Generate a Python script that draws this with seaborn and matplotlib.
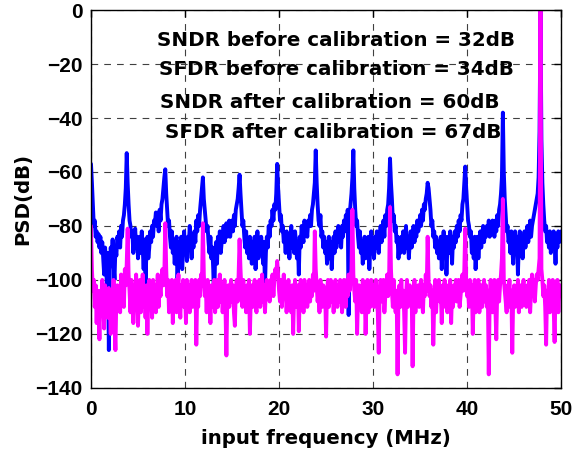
import numpy as np
import pandas as pd
import matplotlib
matplotlib.use('Agg')
import matplotlib.pyplot as plt
import seaborn as sns

# frequency bin spacing (MHz); PSD values, 0..50 MHz
bin_mhz = 0.1

# PSD before calibration (dB), one row = 1 MHz
psd_before = [
    -57, -64, -72, -80, -78, -84, -82, -86, -83, -88,
    -84, -90, -86, -92, -98, -88, -94, -103, -90, -126,
    -96, -88, -92, -85, -94, -100, -88, -91, -84, -86,
    -82, -88, -80, -84, -78, -76, -72, -66, -53, -64,
    -72, -78, -80, -84, -82, -90, -86, -81, -88, -84,
    -92, -86, -84, -90, -82, -88, -96, -85, -101, -89,
    -84, -92, -88, -82, -86, -80, -84, -78, -79, -75,
    -80, -76, -82, -74, -78, -72, -70, -66, -62, -59,
    -68, -74, -80, -78, -84, -88, -82, -90, -86, -94,
    -88, -84, -101, -90, -86, -92, -84, -96, -88, -82,
    -90, -86, -93, -84, -88, -80, -86, -92, -84, -88,
    -82, -86, -78, -82, -76, -80, -74, -70, -66, -62,
    -70, -74, -78, -82, -80, -86, -90, -84, -92, -88,
    -96, -110, -90, -86, -94, -84, -88, -82, -90, -86,
    -84, -80, -86, -82, -79, -84, -80, -78, -84, -80,
    -78, -82, -76, -80, -74, -72, -70, -66, -61, -68,
    -74, -80, -78, -84, -88, -82, -90, -86, -92, -84,
    -88, -94, -86, -90, -84, -96, -88, -82, -92, -86,
    -90, -84, -88, -94, -86, -103, -90, -84, -88, -80,
    -84, -78, -80, -74, -78, -72, -74, -68, -57, -66,
    -72, -78, -76, -82, -80, -86, -84, -90, -82, -88,
    -84, -92, -86, -80, -88, -84, -90, -82, -86, -92,
    -86, -98, -84, -88, -80, -84, -86, -78, -82, -80,
    -84, -78, -80, -76, -80, -74, -72, -68, -64, -52,
    -64, -72, -78, -80, -76, -84, -82, -88, -84, -90,
    -86, -94, -88, -84, -92, -86, -96, -88, -84, -90,
    -82, -88, -84, -80, -86, -82, -88, -80, -84, -78,
    -82, -76, -80, -74, -113, -76, -72, -68, -62, -52,
    -66, -74, -80, -78, -84, -88, -82, -90, -86, -94,
    -88, -84, -92, -86, -90, -84, -96, -88, -82, -90,
    -86, -92, -84, -88, -82, -86, -90, -84, -80, -86,
    -82, -78, -84, -76, -80, -74, -72, -66, -55, -64,
    -70, -78, -76, -82, -80, -86, -84, -92, -86, -90,
    -84, -88, -82, -90, -86, -80, -88, -84, -92, -86,
    -82, -88, -84, -80, -86, -82, -84, -78, -82, -80,
    -76, -80, -74, -78, -72, -74, -70, -68, -64, -66,
    -70, -74, -80, -78, -84, -82, -88, -84, -90, -86,
    -92, -86, -84, -96, -88, -82, -90, -84, -98, -88,
    -84, -90, -82, -86, -94, -84, -88, -82, -86, -80,
    -84, -78, -82, -76, -78, -72, -70, -64, -58, -66,
    -72, -78, -80, -84, -82, -90, -86, -92, -84, -96,
    -88, -84, -92, -86, -82, -88, -84, -80, -86, -82,
    -84, -80, -82, -78, -84, -80, -82, -78, -80, -84,
    -78, -82, -76, -80, -74, -72, -68, -62, -38, -60,
    -70, -76, -82, -80, -86, -84, -90, -82, -88, -94,
    -86, -82, -90, -84, -98, -86, -82, -88, -84, -92,
    -86, -82, -88, -84, -80, -86, -82, -78, -84, -80,
    -78, -76, -74, -72, -70, -68, -62, -45, 0, -48,
    -64, -72, -78, -82, -80, -86, -84, -88, -82, -90,
    -84, -88, -82, -86, -94, -84, -88, -82, -86, -84,
    -82,
]

# PSD after calibration (dB)
psd_after = [
    -80, -96, -104, -100, -110, -102, -116, -104, -108, -122,
    -104, -112, -100, -108, -118, -102, -110, -106, -114, -103,
    -108, -120, -104, -112, -100, -116, -126, -106, -102, -110,
    -104, -112, -98, -106, -100, -110, -96, -102, -94, -81,
    -98, -104, -112, -100, -106, -116, -102, -110, -98, -108,
    -117, -104, -100, -112, -106, -98, -110, -104, -114, -102,
    -120, -106, -100, -110, -104, -114, -100, -108, -102, -112,
    -104, -98, -110, -102, -106, -100, -96, -102, -98, -79,
    -96, -106, -100, -112, -104, -110, -100, -116, -104, -108,
    -100, -112, -104, -98, -108, -114, -102, -106, -100, -110,
    -104, -116, -100, -108, -102, -112, -106, -100, -110, -104,
    -108, -100, -124, -104, -110, -100, -106, -98, -102, -79,
    -98, -106, -102, -112, -100, -108, -104, -116, -102, -110,
    -104, -100, -112, -106, -100, -110, -104, -98, -108, -102,
    -112, -104, -100, -110, -128, -106, -102, -110, -104, -100,
    -108, -102, -112, -117, -104, -100, -108, -98, -85, -96,
    -104, -110, -100, -108, -104, -112, -102, -106, -100, -120,
    -106, -102, -110, -104, -100, -108, -112, -102, -106, -100,
    -110, -104, -98, -108, -102, -112, -104, -100, -106, -102,
    -108, -100, -104, -98, -106, -100, -96, -98, -93, -98,
    -104, -108, -100, -110, -104, -98, -106, -102, -112, -104,
    -100, -108, -104, -112, -102, -120, -106, -100, -110, -104,
    -102, -119, -106, -100, -108, -104, -112, -100, -106, -102,
    -110, -104, -100, -108, -102, -106, -98, -104, -82, -96,
    -102, -108, -104, -112, -100, -106, -110, -102, -108, -104,
    -121, -104, -100, -110, -106, -100, -108, -102, -112, -104,
    -100, -106, -110, -102, -108, -100, -104, -112, -106, -100,
    -104, -110, -100, -106, -98, -104, -100, -96, -74, -98,
    -104, -108, -100, -120, -106, -102, -110, -104, -112, -100,
    -106, -102, -120, -108, -100, -112, -104, -110, -100, -106,
    -102, -110, -104, -100, -108, -112, -127, -104, -100, -108,
    -104, -100, -112, -106, -102, -98, -106, -100, -73, -96,
    -104, -110, -100, -108, -112, -104, -135, -106, -102, -110,
    -100, -108, -104, -112, -127, -106, -100, -110, -104, -102,
    -108, -104, -132, -106, -100, -112, -104, -108, -102, -110,
    -104, -100, -108, -112, -102, -106, -98, -104, -84, -100,
    -106, -102, -110, -104, -124, -108, -100, -112, -104, -106,
    -100, -108, -104, -116, -102, -110, -100, -106, -104, -112,
    -102, -108, -100, -116, -104, -110, -102, -106, -100, -108,
    -104, -100, -110, -106, -102, -98, -104, -96, -81, -100,
    -106, -104, -110, -100, -108, -102, -120, -106, -100, -112,
    -104, -108, -100, -112, -106, -102, -110, -104, -100, -108,
    -102, -110, -104, -135, -106, -100, -108, -112, -104, -100,
    -110, -122, -104, -100, -108, -102, -98, -92, -70, -100,
    -104, -108, -112, -102, -106, -100, -110, -104, -127, -106,
    -102, -110, -104, -108, -100, -112, -106, -102, -110, -104,
    -100, -108, -104, -110, -102, -106, -100, -112, -104, -98,
    -104, -100, -108, -102, -98, -100, -96, -92, 0, -96,
    -100, -106, -102, -110, -124, -104, -108, -100, -112, -104,
    -106, -100, -110, -123, -104, -108, -100, -112, -104, -102,
    -106,
]

notes = [
    'SNDR before calibration = 32dB',
    'SFDR before calibration = 34dB',
    'SNDR after calibration = 60dB',
    'SFDR after calibration = 67dB',
]
note_x = [26.1, 26.15, 25.4, 25.8]
note_y = [-11.3, -22.2, -34.3, -45.5]

x_ticks = [0, 10, 20, 30, 40, 50]
y_ticks = [-140, -120, -100, -80, -60, -40, -20, 0]

freq = np.arange(len(psd_before)) * bin_mhz
df = pd.DataFrame({'freq': freq, 'before': psd_before, 'after': psd_after})

sns.set_theme(style='white')
plt.rcParams['font.family'] = ['Liberation Sans', 'DejaVu Sans']
plt.rcParams['font.weight'] = 'bold'
plt.rcParams['text.color'] = 'black'
plt.rcParams['axes.labelcolor'] = 'black'
plt.rcParams['xtick.color'] = 'black'
plt.rcParams['ytick.color'] = 'black'

fig = plt.figure(figsize=(5.87, 4.59), dpi=100)
ax = fig.add_axes([0.155, 0.155, 0.801, 0.823])

sns.lineplot(data=df, x='freq', y='before', color=(0, 0, 1), lw=2.8, ax=ax)
sns.lineplot(data=df, x='freq', y='after', color=(1, 0, 1), lw=2.8, ax=ax)

ax.set_xlim(0, 50)
ax.set_ylim(-140, 0)
ax.set_xticks(x_ticks)
ax.set_yticks(y_ticks)
ax.grid(True, color='0.25', linestyle=(0, (6, 5.5)), linewidth=0.8)
ax.tick_params(direction='in', top=True, right=True, length=5, width=1,
               labelsize=15, colors='black')
ax.tick_params(axis='x', pad=9)
ax.tick_params(axis='y', pad=6)
for lab in ax.get_xticklabels() + ax.get_yticklabels():
    lab.set_fontweight('bold')
for sp in ax.spines.values():
    sp.set_color('black')
    sp.set_linewidth(1)

ax.set_xlabel('input frequency (MHz)', fontsize=14.2, fontweight='bold',
              family='DejaVu Sans', color='black', labelpad=7)
ax.set_ylabel('PSD(dB)', fontsize=14.2, fontweight='bold',
              family='DejaVu Sans', color='black', labelpad=2)

for t, xx, yy in zip(notes, note_x, note_y):
    ax.text(xx, yy, t, ha='center', va='center', fontsize=14.3,
            fontweight='bold', family='DejaVu Sans', color='black')

fig.savefig('out.png', dpi=100)
